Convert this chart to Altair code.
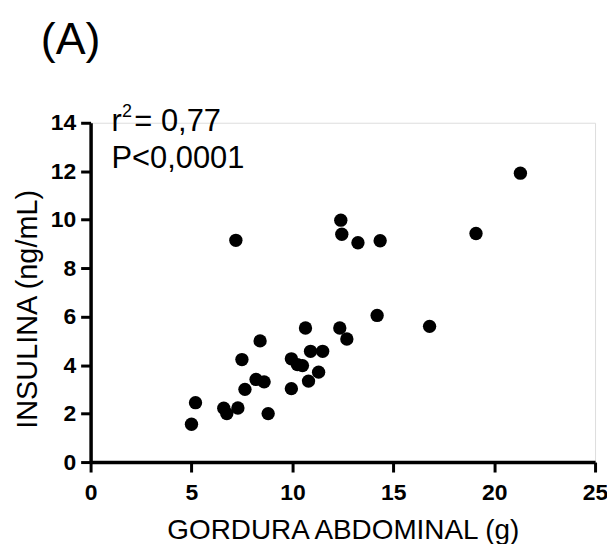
import altair as alt
import pandas as pd

gordura = [7.2, 12.4, 12.45, 5.0, 5.2, 6.6, 6.75, 7.3, 8.8, 7.5, 7.65, 8.2, 8.6, 8.4,
           9.95, 9.95, 10.25, 10.5, 10.65, 10.9, 10.8, 11.3, 11.5, 12.35, 12.7, 21.3,
           13.25, 14.35, 19.1, 14.2, 16.8]
insulina = [9.15, 9.98, 9.4, 1.56, 2.45, 2.22, 2.0, 2.23, 2.0, 4.23, 3.0, 3.41, 3.31, 5.0,
            4.26, 3.03, 4.02, 3.98, 5.53, 4.57, 3.34, 3.71, 4.57, 5.53, 5.08, 11.92,
            9.05, 9.13, 9.43, 6.05, 5.6]
x_ticks = [0, 5, 10, 15, 20, 25]
y_ticks = [0, 2, 4, 6, 8, 10, 12, 14]
r2_parts = ["r", "2", "= 0,77"]
p_text = "P<0,0001"
panel_label = "(A)"

FONT = "Liberation Sans"
df = pd.DataFrame({"gordura": gordura, "insulina": insulina})

common_axis = dict(grid=False, domainColor="black", domainWidth=3.5, tickColor="black",
                   tickWidth=3, tickSize=10, labelFont=FONT, labelFontSize=23,
                   labelFontWeight="bold", labelColor="black", labelFlush=False,
                   titleFont=FONT, titleFontWeight="normal", titleColor="black",
                   titleBaseline="alphabetic")

points = alt.Chart(df).mark_circle(size=180, color="black", opacity=1).encode(
    x=alt.X("gordura:Q", scale=alt.Scale(domain=[0, 25], nice=False, zero=True),
            axis=alt.Axis(values=x_ticks, title="GORDURA ABDOMINAL (g)",
                          labelPadding=10, titleFontSize=28, titleY=77, **common_axis)),
    y=alt.Y("insulina:Q", scale=alt.Scale(domain=[0, 14], nice=False),
            axis=alt.Axis(values=y_ticks, title="INSULINA (ng/mL)", labelPadding=5,
                          titleFontSize=29, titleX=-54, titleY=187, titleAngle=270,
                          **common_axis)),
)


def txt(s, size, x, y):
    return alt.Chart(pd.DataFrame({"t": [s]})).mark_text(
        font=FONT, fontSize=size, align="left", baseline="alphabetic", color="black"
    ).encode(text="t:N", x=alt.value(x), y=alt.value(y))


r_mark = txt(r2_parts[0], 31, 21, 8)
sup_mark = txt(r2_parts[1], 18, 31.5, -5.5)
eq_mark = txt(r2_parts[2], 31, 44, 8)
p_mark = txt(p_text, 31, 21, 45)
label = txt(panel_label, 45, -50, -69)

chart = alt.layer(points, r_mark, sup_mark, eq_mark, p_mark, label).properties(
    width=507, height=341,
    padding={"left": 83, "top": 114, "right": 12, "bottom": 81},
    autosize=alt.AutoSizeParams(type="none"),
).configure_view(stroke=None).configure(background="white")

chart.save("out.html", embed_options={"renderer": "svg", "actions": False})
